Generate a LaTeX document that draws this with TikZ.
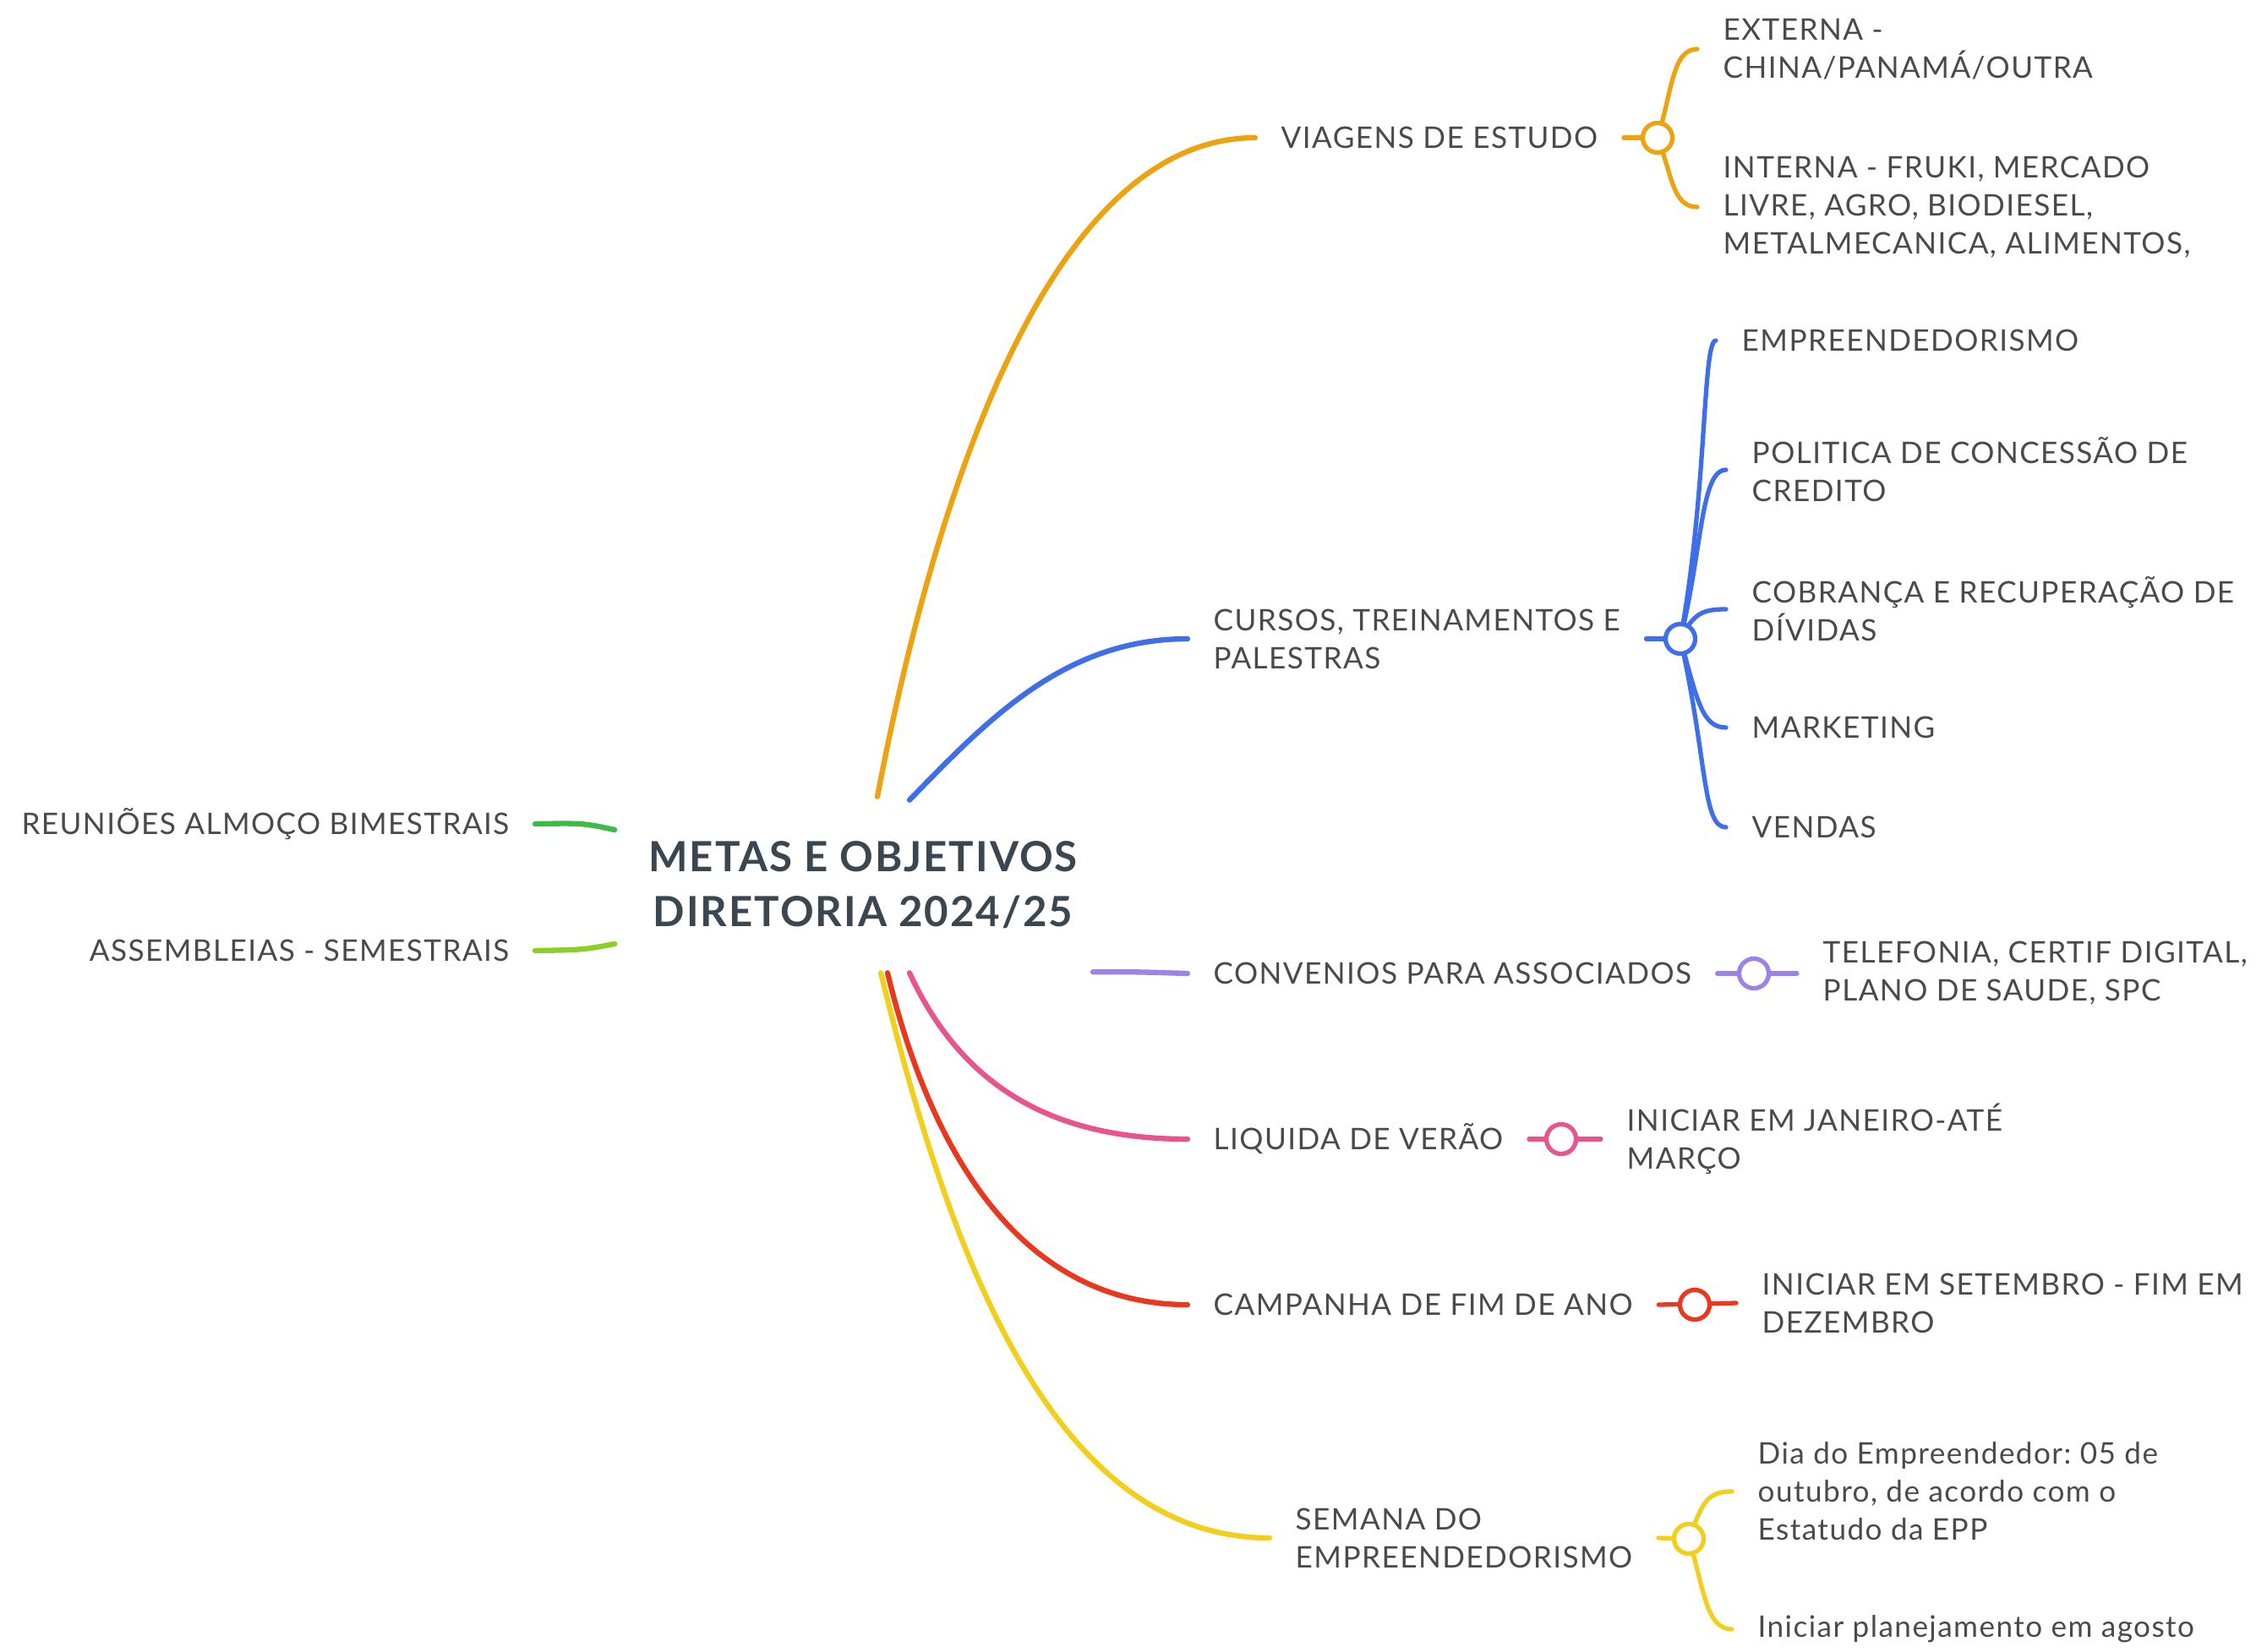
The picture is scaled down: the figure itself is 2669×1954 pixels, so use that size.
\documentclass[tikz,border=0pt]{standalone}
\usepackage{fontspec}
\setmainfont{Lato}[LetterSpace=4.0]
\usetikzlibrary{calc}
\frenchspacing
\definecolor{cOrange}{HTML}{EDA20F}
\definecolor{cBlue}{HTML}{3F6FE8}
\definecolor{cGreen}{HTML}{3DBB45}
\definecolor{cLime}{HTML}{8CCF2A}
\definecolor{cPurple}{HTML}{9D83E3}
\definecolor{cPink}{HTML}{E8558E}
\definecolor{cRed}{HTML}{E8381E}
\definecolor{cYellow}{HTML}{F2CF1D}
\definecolor{txtgrey}{HTML}{4A4A4A}
\definecolor{titlegrey}{HTML}{3A4650}
\tikzset{
  txt/.style={inner xsep=3mm,inner ysep=0pt,align=left,text=txtgrey,
    font=\fontsize{10}{12.8}\selectfont},
  topic/.style={txt,anchor=west},
  kid/.style={txt,anchor=west},
  branch/.style={draw=#1,line width=1.8pt,line cap=round},
  twig/.style={draw=#1,line width=1.5pt,line cap=round},
  knot/.style={circle,draw=#1,fill=white,line width=1.5pt,minimum size=3.5mm,inner sep=0pt}
}
\begin{document}
\begin{tikzpicture}[x=0.01cm,y=-0.01cm]
\useasboundingbox (0,0) rectangle (2669,1954);

% centre
\node[minimum width=5.86cm,minimum height=2.07cm,align=center,text=titlegrey,
  font=\fontsize{14}{18.4}\selectfont\bfseries] (root) at (1021,1047)
  {METAS E OBJETIVOS\\DIRETORIA 2024/25};

% left side
\node[txt,anchor=east] (reunioes) at (633,975) {REUNIÕES ALMOÇO BIMESTRAIS};
\node[txt,anchor=east] (assembleias) at (633,1125) {ASSEMBLEIAS - SEMESTRAIS};
\draw[branch=cGreen] (reunioes.east) .. controls (690,974) .. ($(root.west)+(0,-65)$);
\draw[branch=cLime] (assembleias.east) .. controls (690,1124) .. ($(root.west)+(0,70)$);

% right side topics
\node[topic] (viagens) at (1485,163) {VIAGENS DE ESTUDO};
\node[topic] (cursos) at (1405,756) {CURSOS, TREINAMENTOS E\\PALESTRAS};
\node[topic] (convenios) at (1405,1152) {CONVENIOS PARA ASSOCIADOS};
\node[topic] (liquida) at (1405,1348) {LIQUIDA DE VERÃO};
\node[topic] (campanha) at (1405,1544) {CAMPANHA DE FIM DE ANO};
\node[topic] (semana) at (1502,1820) {SEMANA DO\\EMPREENDEDORISMO};

\draw[branch=cOrange] ($(root.north)+(17,0)$) .. controls (1105,590) and (1240,163) .. (viagens.west);
\draw[branch=cBlue] ($(root.north)+(55,4)$) .. controls (1170,850) and (1260,756) .. (cursos.west);
\draw[branch=cPurple] ($(root.south)+(272,-1)$) .. controls (1340,1150) .. (convenios.west);
\draw[branch=cPink] ($(root.south)+(55,0)$) .. controls (1140,1290) and (1250,1348) .. (liquida.west);
\draw[branch=cRed] ($(root.south)+(29,0)$) .. controls (1110,1400) and (1230,1544) .. (campanha.west);
\draw[branch=cYellow] ($(root.south)+(21,0)$) .. controls (1120,1470) and (1240,1820) .. (semana.west);

% sub topics
\node[kid] (externa) at (2008,58) {EXTERNA -\\CHINA/PANAMÁ/OUTRA};
\node[kid] (interna) at (2008,245) {INTERNA - FRUKI, MERCADO\\LIVRE, AGRO, BIODIESEL,\\METALMECANICA, ALIMENTOS,};

\node[kid] (empre) at (2030,403) {EMPREENDEDORISMO};
\node[kid] (politica) at (2042,556) {POLITICA DE CONCESSÃO DE\\CREDITO};
\node[kid] (cobranca) at (2042,721) {COBRANÇA E RECUPERAÇÃO DE\\DÍVIDAS};
\node[kid] (marketing) at (2042,861) {MARKETING};
\node[kid] (vendas) at (2042,979) {VENDAS};

\node[kid] (telefonia) at (2126,1152) {TELEFONIA, CERTIF DIGITAL,\\PLANO DE SAUDE, SPC};
\node[kid] (janeiro) at (1894,1348) {INICIAR EM JANEIRO-ATÉ\\MARÇO};
\node[kid] (setembro) at (2054,1542) {INICIAR EM SETEMBRO - FIM EM\\DEZEMBRO};
\node[kid] (diaemp) at (2049,1765) {Dia do Empreendedor: 05 de\\outubro, de acordo com o\\Estatudo da EPP};
\node[kid] (agosto) at (2049,1928) {Iniciar planejamento em agosto};

% knots
\coordinate (ok) at (1961,163);
\coordinate (bk) at (1988,756);
\coordinate (pk) at (2075,1152);
\coordinate (mk) at (1847,1348);
\coordinate (rk) at (2005,1544);
\coordinate (yk) at (1998,1821);

\draw[twig=cOrange] (viagens.east) -- (ok);
\draw[twig=cOrange] (ok) .. controls (1978,110) and (1978,58) .. (externa.west);
\draw[twig=cOrange] (ok) .. controls (1978,205) and (1978,245) .. (interna.west);

\draw[twig=cBlue] (cursos.east) -- (bk);
\draw[twig=cBlue] (bk) .. controls (2020,580) and (2014,403) .. (empre.west);
\draw[twig=cBlue] (bk) .. controls (2014,650) and (2012,556) .. (politica.west);
\draw[twig=cBlue] (bk) .. controls (2004,725) and (2015,721) .. (cobranca.west);
\draw[twig=cBlue] (bk) .. controls (2008,830) and (2014,861) .. (marketing.west);
\draw[twig=cBlue] (bk) .. controls (2020,900) and (2014,979) .. (vendas.west);

\draw[twig=cPurple] (convenios.east) -- (telefonia.west);
\draw[twig=cPink] (liquida.east) -- (janeiro.west);
\draw[twig=cRed] (campanha.east) -- (setembro.west);

\draw[twig=cYellow] (semana.east) -- (yk);
\draw[twig=cYellow] (yk) .. controls (2014,1780) and (2018,1765) .. (diaemp.west);
\draw[twig=cYellow] (yk) .. controls (2016,1880) and (2018,1928) .. (agosto.west);

\node[knot=cOrange] at (ok) {};
\node[knot=cBlue] at (bk) {};
\node[knot=cPurple] at (pk) {};
\node[knot=cPink] at (mk) {};
\node[knot=cRed] at (rk) {};
\node[knot=cYellow] at (yk) {};
\end{tikzpicture}
\end{document}
